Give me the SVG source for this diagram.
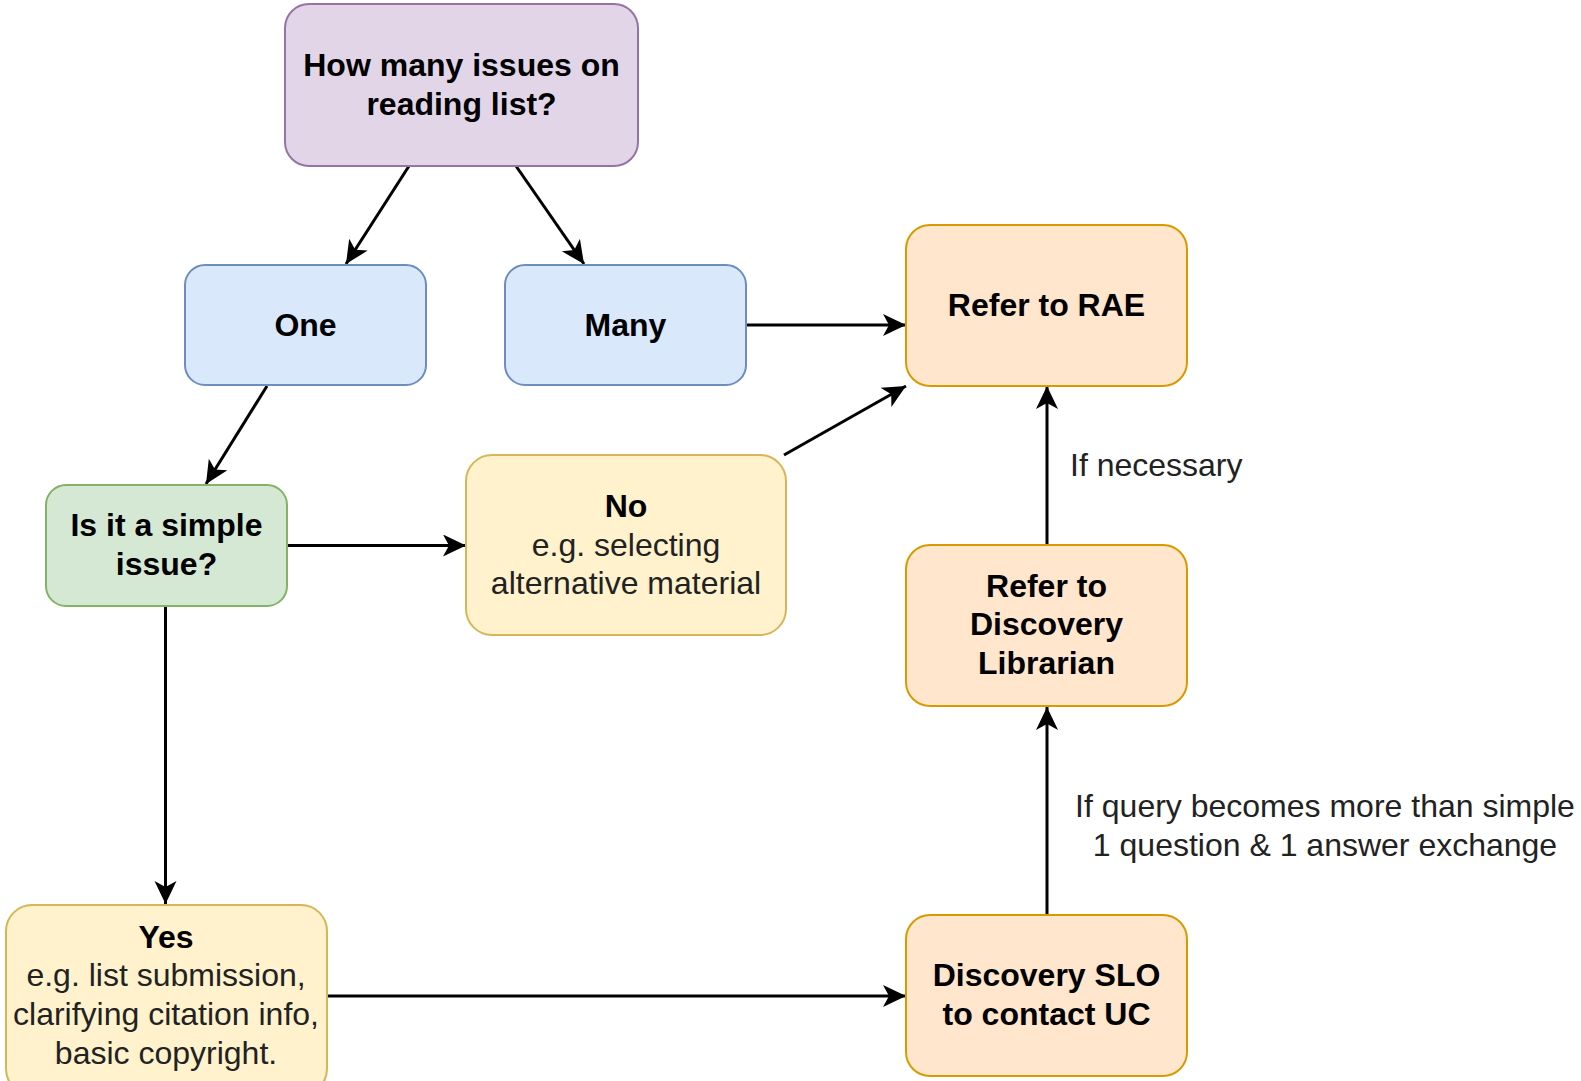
<svg xmlns="http://www.w3.org/2000/svg" width="1581" height="1081" viewBox="0 0 1581 1081">
<style>
  .b { font-family: "Liberation Sans", Arial, sans-serif; font-size: 32px; font-weight: bold; fill: #000; text-anchor: middle; }
  .n { font-family: "Liberation Sans", Arial, sans-serif; font-size: 32px; fill: #222; text-anchor: middle; }
  .lbl { font-family: "Liberation Sans", Arial, sans-serif; font-size: 32px; fill: #222; }
  .purple { fill: #e1d5e7; stroke: #9673a6; stroke-width: 2; }
  .blue { fill: #dae8fc; stroke: #6c8ebf; stroke-width: 2; }
  .green { fill: #d5e8d4; stroke: #82b366; stroke-width: 2; }
  .yellow { fill: #fff2cc; stroke: #d6b656; stroke-width: 2; }
  .orange { fill: #ffe6cc; stroke: #d79b00; stroke-width: 2; }
  .edge { stroke: #000; stroke-width: 3; fill: none; marker-end: url(#arr); }
</style>
<defs>
  <marker id="arr" markerUnits="userSpaceOnUse" markerWidth="26" markerHeight="24" refX="23" refY="11" orient="auto">
    <path d="M0,0 L23,11 L0,22 L6,11 Z" fill="#000"/>
  </marker>
</defs>
<rect width="1581" height="1081" fill="#fff"/>
<g id="connectors">
  <line class="edge" x1="409" y1="166" x2="346" y2="264"/>
  <line class="edge" x1="516" y1="166" x2="584" y2="264"/>
  <line class="edge" x1="267" y1="386" x2="206" y2="484"/>
  <line class="edge" x1="747" y1="325" x2="906" y2="325"/>
  <line class="edge" x1="287" y1="545.5" x2="466" y2="545.5"/>
  <line class="edge" x1="784" y1="455" x2="906" y2="386"/>
  <line class="edge" x1="165.5" y1="606" x2="165.5" y2="904"/>
  <line class="edge" x1="327" y1="996" x2="906" y2="996"/>
  <line class="edge" x1="1047" y1="915" x2="1047" y2="707"/>
  <line class="edge" x1="1047" y1="545" x2="1047" y2="386"/>
  <text class="lbl" x="1070" y="476">If necessary</text>
  <text class="n" x="1325" y="817">If query becomes more than simple</text>
  <text class="n" x="1325" y="856">1 question &amp; 1 answer exchange</text>
</g>
<g id="node-how-many">
  <rect class="purple" x="285" y="4" width="353" height="162" rx="24"/>
  <text class="b" x="461.5" y="76">How many issues on</text>
  <text class="b" x="461.5" y="115">reading list?</text>
</g>
<g id="node-one">
  <rect class="blue" x="185" y="265" width="241" height="120" rx="20"/>
  <text class="b" x="305.5" y="336">One</text>
</g>
<g id="node-many">
  <rect class="blue" x="505" y="265" width="241" height="120" rx="20"/>
  <text class="b" x="625.5" y="336">Many</text>
</g>
<g id="node-rae">
  <rect class="orange" x="906" y="225" width="281" height="161" rx="24"/>
  <text class="b" x="1046.5" y="316">Refer to RAE</text>
</g>
<g id="node-simple">
  <rect class="green" x="46" y="485" width="241" height="121" rx="20"/>
  <text class="b" x="166.5" y="536">Is it a simple</text>
  <text class="b" x="166.5" y="575">issue?</text>
</g>
<g id="node-no">
  <rect class="yellow" x="466" y="455" width="320" height="180" rx="26"/>
  <text class="b" x="626" y="517">No</text>
  <text class="n" x="626" y="556">e.g. selecting</text>
  <text class="n" x="626" y="594">alternative material</text>
</g>
<g id="node-librarian">
  <rect class="orange" x="906" y="545" width="281" height="161" rx="24"/>
  <text class="b" x="1046.5" y="597">Refer to</text>
  <text class="b" x="1046.5" y="635">Discovery</text>
  <text class="b" x="1046.5" y="674">Librarian</text>
</g>
<g id="node-yes">
  <rect class="yellow" x="6" y="905" width="321" height="190" rx="26"/>
  <text class="b" x="166" y="948">Yes</text>
  <text class="n" x="166" y="986">e.g. list submission,</text>
  <text class="n" x="166" y="1025">clarifying citation info,</text>
  <text class="n" x="166" y="1064">basic copyright.</text>
</g>
<g id="node-slo">
  <rect class="orange" x="906" y="915" width="281" height="161" rx="24"/>
  <text class="b" x="1046.5" y="986">Discovery SLO</text>
  <text class="b" x="1046.5" y="1025">to contact UC</text>
</g>
</svg>
